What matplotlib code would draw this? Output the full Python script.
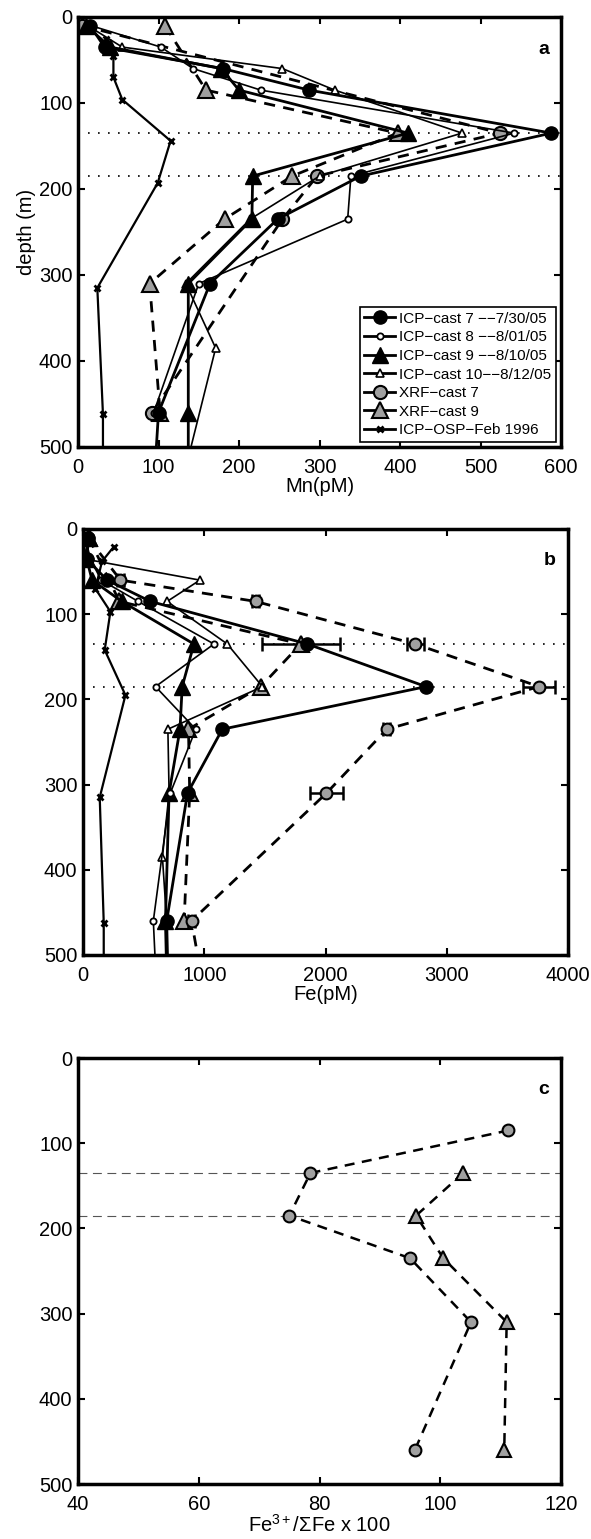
import matplotlib
matplotlib.use("Agg")
import matplotlib.pyplot as plt
from matplotlib.lines import Line2D
from matplotlib import font_manager as fm

plt.rcParams['font.family'] = ['Liberation Sans', 'DejaVu Sans']
plt.rcParams['mathtext.fontset'] = 'custom'
plt.rcParams['mathtext.rm'] = 'Liberation Sans'
plt.rcParams['mathtext.it'] = 'Liberation Sans'

try:
    fm.findfont(fm.FontProperties(family='Liberation Sans Narrow'), fallback_to_default=False)
    LEG_FAMILY, LEG_FS = ['Liberation Sans Narrow', 'Liberation Sans', 'DejaVu Sans'], 12.5
except Exception:
    LEG_FAMILY, LEG_FS = ['Liberation Sans', 'DejaVu Sans'], 11

# ---------------- data ----------------
# Panel a : Mn (pM)
a_c7_depth = [10, 35, 60, 85, 135, 185, 235, 310, 460, 520]
a_c7_mn = [15, 33, 180, 287, 588, 351, 248, 164, 100, 96]
a_c8_depth = [10, 35, 60, 85, 135, 185, 235, 310, 460]
a_c8_mn = [16, 103, 143, 227, 542, 339, 335, 150, 94]
a_c9_depth = [10, 35, 60, 85, 135, 185, 235, 310, 460, 520]
a_c9_mn = [10, 40, 178, 200, 410, 217, 216, 137, 137, 137]
a_c10_depth = [10, 35, 60, 85, 135, 185, 235, 310, 385, 520]
a_c10_mn = [12, 55, 254, 319, 477, 300, 214, 134, 171, 135]
a_x7_depth = [10, 135, 185, 235, 460]
a_x7_mn = [5, 524, 297, 254, 92]
a_x9_depth = [10, 85, 135, 185, 235, 310, 460]
a_x9_mn = [108, 159, 397, 266, 182, 89, 102]
a_osp_depth = [25, 45, 70, 96, 144, 193, 315, 462, 520]
a_osp_mn = [35, 44, 44, 55, 115, 99, 24, 31, 31]

# Panel b : Fe (pM)
b_c7_depth = [10, 35, 60, 85, 135, 185, 235, 310, 460, 520]
b_c7_fe = [40, 30, 198, 556, 1851, 2829, 1149, 862, 690, 700]
b_c8_depth = [10, 35, 60, 85, 135, 185, 235, 310, 460, 520]
b_c8_fe = [20, 60, 150, 455, 1080, 598, 930, 720, 580, 600]
b_c9_depth = [10, 35, 60, 85, 135, 185, 235, 310, 460, 520]
b_c9_fe = [47, 30, 75, 320, 915, 818, 800, 710, 680, 690]
b_c10_depth = [10, 35, 60, 85, 135, 185, 235, 310, 385, 460]
b_c10_fe = [50, 5, 964, 694, 1190, 1480, 700, 710, 655, 690]
b_x7_depth = [10, 60, 85, 135, 185, 235, 310, 460, 540]
b_x7_fe = [40, 309, 1424, 2740, 3762, 2506, 2008, 895, 995]
b_x7_err = [20, 30, 30, 70, 130, 30, 135, 30, 0]
b_x9_depth = [10, 85, 135, 185, 235, 310, 460]
b_x9_fe = [47, 300, 1796, 1466, 870, 880, 834]
b_x9_err = [0, 0, 320, 0, 0, 0, 0]
b_osp_depth = [21, 38, 70, 97, 142, 195, 315, 462, 520]
b_osp_fe = [253, 157, 102, 226, 179, 350, 138, 171, 171]

# Panel c : Fe3+/sum Fe x 100
c_x7_depth = [85, 135, 185, 235, 310, 460]
c_x7_ratio = [111.3, 78.5, 75.0, 95.0, 105.1, 95.8]
c_x9_depth = [135, 185, 235, 310, 460]
c_x9_ratio = [103.8, 96.0, 100.5, 111.0, 110.6]

ref_depths = [135, 185]

labels = ["ICP\u2212cast 7 \u2212\u22127/30/05", "ICP\u2212cast 8 \u2212\u22128/01/05",
          "ICP\u2212cast 9 \u2212\u22128/10/05", "ICP\u2212cast 10\u2212\u22128/12/05",
          "XRF\u2212cast 7", "XRF\u2212cast 9", "ICP\u2212OSP\u2212Feb 1996"]

GRAY = '#a0a0a0'
DASH = (0, (4, 3))
styles = {
    'c7': dict(color='k', lw=2.0, marker='o', ms=9.5, mfc='k', mec='k', ls='-'),
    'c8': dict(color='k', lw=1.2, marker='o', ms=4.5, mfc='white', mec='k', mew=1.3, ls='-'),
    'c9': dict(color='k', lw=2.0, marker='^', ms=11, mfc='k', mec='k', ls='-'),
    'c10': dict(color='k', lw=1.2, marker='^', ms=6, mfc='white', mec='k', mew=1.2, ls='-'),
    'x7': dict(color='k', lw=2.0, marker='o', ms=9.5, mfc=GRAY, mec='k', mew=1.5, ls=DASH),
    'x9': dict(color='k', lw=2.0, marker='^', ms=11, mfc=GRAY, mec='k', mew=1.5, ls=DASH),
    'osp': dict(color='k', lw=1.6, marker='x', ms=5, mew=2.0, ls='-'),
}

FS = 14.5
H = 1539.0
Wf = 591.0

fig = plt.figure(figsize=(5.91, 15.39), dpi=100)


def add_ax(left, right, top, bottom):
    return fig.add_axes([left / Wf, 1 - bottom / H, (right - left) / Wf, (bottom - top) / H])


ax_a = add_ax(78, 561, 17, 447)
ax_b = add_ax(83, 568, 529, 955)
ax_c = add_ax(78, 561, 1058, 1484)


def style_axes(ax, xlim, xticks, label):
    ax.set_xlim(*xlim)
    ax.set_ylim(500, 0)
    ax.set_xticks(xticks)
    ax.set_yticks([0, 100, 200, 300, 400, 500])
    ax.tick_params(direction='in', top=True, right=True, length=5, width=1.5,
                   labelsize=FS)
    ax.tick_params(axis='x', pad=8)
    ax.tick_params(axis='y', pad=4)
    for s in ax.spines.values():
        s.set_linewidth(2.5)
    ax.text(0.975, 0.945, label, transform=ax.transAxes, ha='right', va='top',
            fontsize=14, fontweight='bold')


# Panel a
for d in ref_depths:
    ax_a.axhline(d, color='k', ls=(0, (1, 5)), lw=1.2, zorder=1)
ax_a.plot(a_osp_mn, a_osp_depth, **styles['osp'])
ax_a.plot(a_x9_mn, a_x9_depth, **styles['x9'])
ax_a.plot(a_x7_mn, a_x7_depth, **styles['x7'])
ax_a.plot(a_c10_mn, a_c10_depth, **styles['c10'])
ax_a.plot(a_c9_mn, a_c9_depth, **styles['c9'])
ax_a.plot(a_c8_mn, a_c8_depth, **styles['c8'])
ax_a.plot(a_c7_mn, a_c7_depth, **styles['c7'])
style_axes(ax_a, (0, 600), [0, 100, 200, 300, 400, 500, 600], 'a')
ax_a.set_xlabel('Mn(pM)', fontsize=FS, labelpad=0)
ax_a.set_ylabel('depth (m)', fontsize=FS, labelpad=2)

handles = []
for key in ['c7', 'c8', 'c9', 'c10', 'x7', 'x9', 'osp']:
    st = dict(styles[key])
    st['ls'] = '-'
    st['lw'] = 2.0
    handles.append(Line2D([], [], **st))
leg = ax_a.legend(handles, labels, loc='lower right', bbox_to_anchor=(0.99, 0.012),
                  prop=fm.FontProperties(family=LEG_FAMILY, size=LEG_FS),
                  frameon=True, fancybox=False, framealpha=1,
                  edgecolor='k', handlelength=2.0, handletextpad=0.3,
                  borderpad=0.3, labelspacing=0.3, borderaxespad=0)
leg.get_frame().set_linewidth(1.2)

# Panel b
for d in ref_depths:
    ax_b.axhline(d, color='k', ls=(0, (1, 5)), lw=1.2, zorder=1)
ax_b.plot(b_osp_fe, b_osp_depth, **styles['osp'])
ax_b.errorbar(b_x9_fe, b_x9_depth, xerr=b_x9_err, fmt='none', ecolor='k',
              elinewidth=1.8, capsize=5, capthick=1.8)
ax_b.plot(b_x9_fe, b_x9_depth, **styles['x9'])
ax_b.errorbar(b_x7_fe, b_x7_depth, xerr=b_x7_err, fmt='none', ecolor='k',
              elinewidth=1.8, capsize=5, capthick=1.8)
ax_b.plot(b_x7_fe, b_x7_depth, **{**styles['x7'], 'ms': 8.5})
ax_b.plot(b_c10_fe, b_c10_depth, **styles['c10'])
ax_b.plot(b_c9_fe, b_c9_depth, **styles['c9'])
ax_b.plot(b_c8_fe, b_c8_depth, **styles['c8'])
ax_b.plot(b_c7_fe, b_c7_depth, **styles['c7'])
style_axes(ax_b, (0, 4000), [0, 1000, 2000, 3000, 4000], 'b')
ax_b.set_xlabel('Fe(pM)', fontsize=FS, labelpad=0)

# Panel c
for d in ref_depths:
    ax_c.axhline(d, color='#555555', ls=(0, (8, 5)), lw=0.8, zorder=1)
ax_c.plot(c_x7_ratio, c_x7_depth, color='k', lw=1.8, ls=DASH, marker='o',
          ms=8.5, mfc=GRAY, mec='k', mew=1.5)
ax_c.plot(c_x9_ratio, c_x9_depth, color='k', lw=1.8, ls=DASH, marker='^',
          ms=10.5, mfc=GRAY, mec='k', mew=1.5)
style_axes(ax_c, (40, 120), [40, 60, 80, 100, 120], 'c')
ax_c.set_xlabel(r'Fe$^{3+}$/$\Sigma$Fe x 100', fontsize=FS, labelpad=0)

fig.savefig('out.png', dpi=100)
